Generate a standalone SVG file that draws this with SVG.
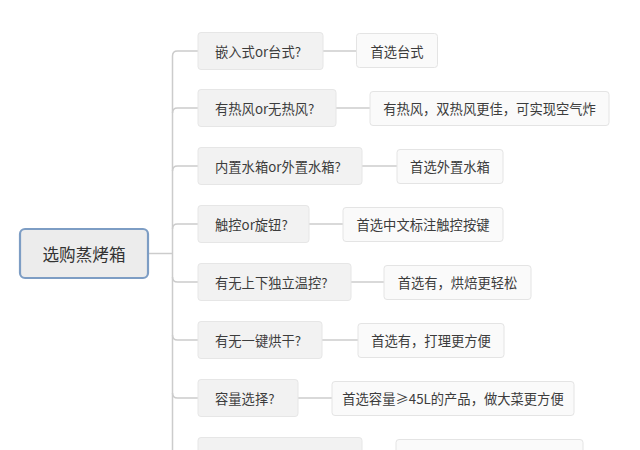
<svg xmlns="http://www.w3.org/2000/svg" width="640" height="450" viewBox="0 0 640 450">
<defs>
<style>
.q rect{fill:#f2f2f2;stroke:#e6e6e6;stroke-width:1}
.a rect{fill:#fafafa;stroke:#e4e4e4;stroke-width:1}
.root rect{fill:#ececec;stroke:#7d9dc4;stroke-width:2.2}
text{font-family:"Microsoft YaHei","Noto Sans CJK SC","Noto Sans",sans-serif;fill:#3c3c3c;dominant-baseline:central}
.q text,.a text{font-size:13.3px}
.root text{font-size:16.6px;fill:#333}
.conn path{fill:none;stroke:#cccccc;stroke-width:1.5}
</style>
</defs>
<rect width="640" height="450" fill="#ffffff"/>
<g class="conn">
<path d="M148,253.5 H172.5"/>
<path d="M172.5,455 V56 Q172.5,51 177.5,51 H198"/>
<path d="M172.5,113 Q172.5,108 177.5,108 H198"/>
<path d="M172.5,171 Q172.5,166 177.5,166 H198"/>
<path d="M172.5,229 Q172.5,224 177.5,224 H198"/>
<path d="M172.5,277 Q172.5,282 177.5,282 H198"/>
<path d="M172.5,335 Q172.5,340 177.5,340 H198"/>
<path d="M172.5,393 Q172.5,398 177.5,398 H198"/>
<path d="M323,51 H356"/>
<path d="M336,108 H370"/>
<path d="M362,166 H397"/>
<path d="M309,224 H343"/>
<path d="M351,282 H384"/>
<path d="M322,340 H358"/>
<path d="M298,398 H332"/>
</g>
<g id="root" class="root"><rect x="20" y="229" width="128" height="49" rx="5"/><text x="84" y="254" text-anchor="middle">选购蒸烤箱</text></g>
<g id="q1" class="q"><rect x="198" y="32.5" width="125" height="37" rx="3"/><text x="215" y="51">嵌入式or台式?</text></g>
<g id="a1" class="a"><rect x="356.5" y="33.5" width="81" height="34" rx="3"/><text x="397" y="51" text-anchor="middle">首选台式</text></g>
<g id="q2" class="q"><rect x="198" y="89.5" width="138" height="37" rx="3"/><text x="215" y="108">有热风or无热风?</text></g>
<g id="a2" class="a"><rect x="370" y="91.5" width="239" height="34" rx="3"/><text x="489.5" y="108.5" text-anchor="middle">有热风，双热风更佳，可实现空气炸</text></g>
<g id="q3" class="q"><rect x="198" y="147.5" width="164" height="37" rx="3"/><text x="215" y="166">内置水箱or外置水箱?</text></g>
<g id="a3" class="a"><rect x="397" y="149.5" width="106" height="34" rx="3"/><text x="450" y="166.5" text-anchor="middle">首选外置水箱</text></g>
<g id="q4" class="q"><rect x="198" y="205.5" width="111" height="37" rx="3"/><text x="215" y="224">触控or旋钮?</text></g>
<g id="a4" class="a"><rect x="343" y="207.5" width="160" height="34" rx="3"/><text x="423" y="224.5" text-anchor="middle">首选中文标注触控按键</text></g>
<g id="q5" class="q"><rect x="198" y="263.5" width="153" height="37" rx="3"/><text x="215" y="282">有无上下独立温控?</text></g>
<g id="a5" class="a"><rect x="384" y="265.5" width="147" height="34" rx="3"/><text x="457.5" y="282.5" text-anchor="middle">首选有，烘焙更轻松</text></g>
<g id="q6" class="q"><rect x="198" y="321.5" width="124" height="37" rx="3"/><text x="215" y="340">有无一键烘干?</text></g>
<g id="a6" class="a"><rect x="358" y="323.5" width="146" height="34" rx="3"/><text x="431" y="340.5" text-anchor="middle">首选有，打理更方便</text></g>
<g id="q7" class="q"><rect x="198" y="379.5" width="100" height="37" rx="3"/><text x="215" y="398">容量选择?</text></g>
<g id="a7" class="a"><rect x="332" y="381.5" width="242" height="34" rx="3"/><text x="453" y="398.5" text-anchor="middle">首选容量≥45L的产品，做大菜更方便</text></g>
<g id="q8" class="q"><rect x="198" y="437.5" width="164" height="37" rx="3"/></g>
<g id="a8" class="a"><rect x="396" y="439.5" width="187" height="34" rx="3"/></g>
</svg>
